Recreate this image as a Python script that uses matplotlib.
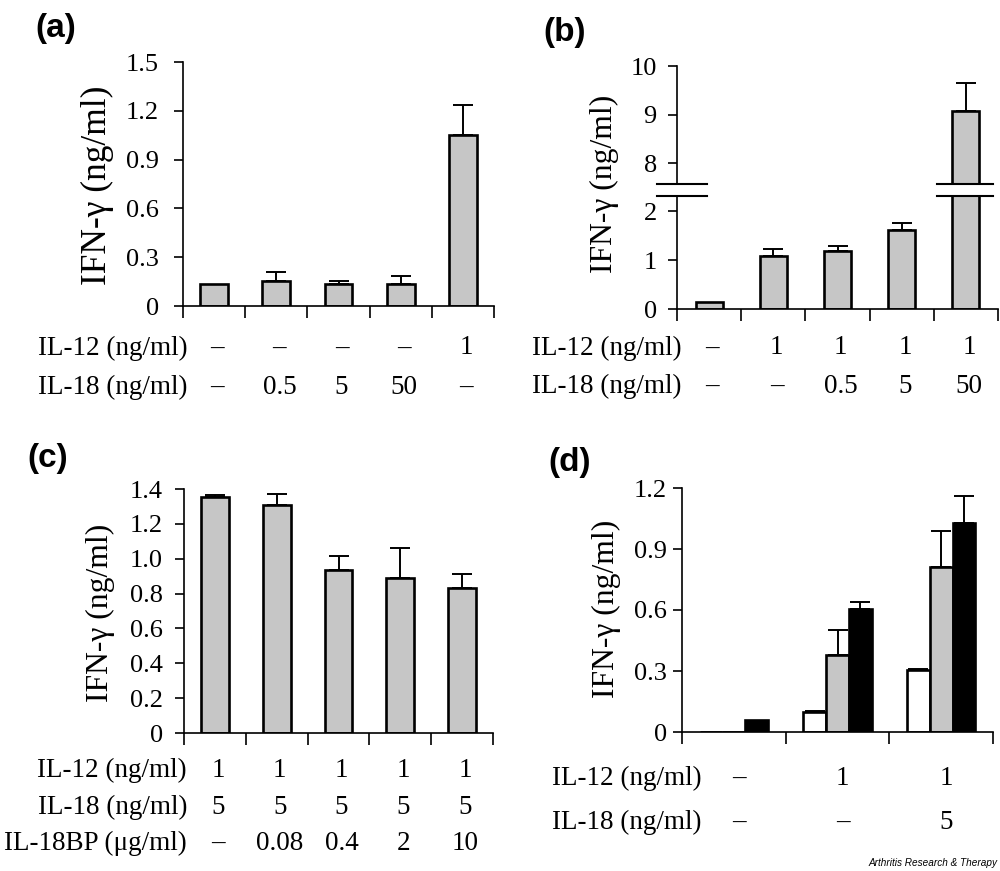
import numpy as np
import matplotlib
matplotlib.use('Agg')
import matplotlib.pyplot as plt
from matplotlib import transforms

W, H = 1000, 871

# ---- data ----
a_vals = [0.135, 0.155, 0.135, 0.135, 1.05]
a_err = [0.0, 0.055, 0.02, 0.05, 0.185]
a_il12 = ['–', '–', '–', '–', '1']
a_il18 = ['–', '0.5', '5', '50', '–']
a_yticks = [0, 0.3, 0.6, 0.9, 1.2, 1.5]
a_yticklabels = ['0', '0.3', '0.6', '0.9', '1.2', '1.5']

b_vals = [0.14, 1.08, 1.18, 1.61, 9.08]
b_err = [0.0, 0.15, 0.11, 0.15, 0.57]
b_il12 = ['–', '1', '1', '1', '1']
b_il18 = ['–', '–', '0.5', '5', '50']
b_low_ticks = [0, 1, 2]
b_high_ticks = [8, 9, 10]

c_vals = [1.355, 1.31, 0.935, 0.89, 0.83]
c_err = [0.01, 0.06, 0.08, 0.17, 0.08]
c_il12 = ['1', '1', '1', '1', '1']
c_il18 = ['5', '5', '5', '5', '5']
c_bp = ['–', '0.08', '0.4', '2', '10']
c_yticks = [0, 0.2, 0.4, 0.6, 0.8, 1.0, 1.2, 1.4]
c_yticklabels = ['0', '0.2', '0.4', '0.6', '0.8', '1.0', '1.2', '1.4']

d_white = [0.0, 0.098, 0.305]
d_white_err = [0.0, 0.005, 0.005]
d_grey = [0.0, 0.38, 0.81]
d_grey_err = [0.0, 0.12, 0.18]
d_black = [0.06, 0.605, 1.03]
d_black_err = [0.0, 0.035, 0.13]
d_il12 = ['–', '1', '1']
d_il18 = ['–', '–', '5']
d_yticks = [0, 0.3, 0.6, 0.9, 1.2]
d_yticklabels = ['0', '0.3', '0.6', '0.9', '1.2']

GREY = '#c6c6c6'
SERIF = 'Liberation Serif'
SANS = 'Liberation Sans'
TICK_FS = 19
ROW_FS = 19.5
YLAB_FS = 22.8
PANEL_FS = 24

fig = plt.figure(figsize=(W / 100, H / 100), dpi=100)


def box(l, t, r, b):
    return [l / W, 1 - b / H, (r - l) / W, (b - t) / H]


def fy(ypx):
    return 1 - ypx / H


def style_axis(ax, pad, bottom=True):
    for s in ['top', 'right']:
        ax.spines[s].set_visible(False)
    ax.spines['left'].set_linewidth(1.2)
    ax.spines['bottom'].set_linewidth(1.2)
    ax.tick_params(axis='y', direction='out', length=6.5, width=1.2, pad=pad,
                   labelsize=TICK_FS)
    if bottom:
        ax.tick_params(axis='x', direction='out', length=8.5, width=1.2,
                       labelbottom=False)
    for lab in ax.get_yticklabels():
        lab.set_fontfamily(SERIF)


def draw_bars(ax, x, vals, errs, color, width):
    ax.bar(x, vals, width, color=color, edgecolor='black', linewidth=1.9, zorder=2)
    x = np.asarray(x, dtype=float)
    vals = np.asarray(vals)
    errs = np.asarray(errs)
    m = errs > 0
    if m.any():
        ax.errorbar(x[m], vals[m], yerr=[np.zeros(m.sum()), errs[m]], fmt='none',
                    ecolor='black', elinewidth=1.4, capsize=7, capthick=1.4, zorder=1)


def rows(ax, labels_list, names, ys, name_x):
    tr = transforms.blended_transform_factory(ax.transData, fig.transFigure)
    for labels, name, y in zip(labels_list, names, ys):
        fig.text(name_x / W, fy(y), name, ha='right', va='center',
                 family=SERIF, fontsize=ROW_FS)
        for i, lab in enumerate(labels):
            ax.text(i + 1.05, fy(y), lab, transform=tr, ha='center', va='center',
                    family=SERIF, fontsize=ROW_FS)


def ylabel(x, y, size=YLAB_FS):
    fig.text(x / W, fy(y), 'IFN-γ (ng/ml)', rotation=90, ha='center', va='center',
             family=SERIF, fontsize=size)


def panel(x, y, s):
    fig.text(x / W, fy(y), s, ha='left', va='center', family=SANS,
             weight='bold', fontsize=PANEL_FS)


x5 = np.arange(1, 6)

# ---- (a) ----
ax = fig.add_axes(box(183, 62, 494, 306))
draw_bars(ax, x5, a_vals, a_err, GREY, 0.45)
ax.set_xlim(0.5, 5.5)
ax.set_ylim(0, 1.5)
ax.set_xticks(np.arange(0.5, 6, 1))
ax.set_yticks(a_yticks)
ax.set_yticklabels(a_yticklabels)
style_axis(ax, 11)
rows(ax, [a_il12, a_il18], ['IL-12 (ng/ml)', 'IL-18 (ng/ml)'], [348, 387], 188)
ylabel(97, 185, 25.5)
panel(35, 28, '(a)')

# ---- (b) broken axis ----
axl = fig.add_axes(box(677, 196, 998, 309))
axh = fig.add_axes(box(677, 66, 998, 184))
for a_ in (axl, axh):
    draw_bars(a_, x5, b_vals, b_err, GREY, 0.42)
    a_.set_xlim(0.5, 5.5)
axl.set_ylim(0, 2.31)
axh.set_ylim(7.57, 10)
axl.set_xticks(np.arange(0.5, 6, 1))
axl.set_yticks(b_low_ticks)
axl.set_yticklabels([str(t) for t in b_low_ticks])
axh.set_yticks(b_high_ticks)
axh.set_yticklabels([str(t) for t in b_high_ticks])
style_axis(axl, 8)
style_axis(axh, 8, bottom=False)
axh.spines['bottom'].set_visible(False)
axh.tick_params(axis='x', bottom=False, labelbottom=False)
for xs in ([-0.062, 0.093], [0.81, 0.984]):
    axh.plot(xs, [0, 0], transform=axh.transAxes, color='black', lw=1.5, clip_on=False)
    axl.plot(xs, [1, 1], transform=axl.transAxes, color='black', lw=1.5, clip_on=False)
rows(axl, [b_il12, b_il18], ['IL-12 (ng/ml)', 'IL-18 (ng/ml)'], [348, 386], 682)
ylabel(604, 184)
panel(543, 32, '(b)')

# ---- (c) ----
ax = fig.add_axes(box(184, 489, 493, 733))
draw_bars(ax, x5, c_vals, c_err, GREY, 0.45)
ax.set_xlim(0.5, 5.5)
ax.set_ylim(0, 1.4)
ax.set_xticks(np.arange(0.5, 6, 1))
ax.set_yticks(c_yticks)
ax.set_yticklabels(c_yticklabels)
style_axis(ax, 8.5)
rows(ax, [c_il12, c_il18, c_bp], ['IL-12 (ng/ml)', 'IL-18 (ng/ml)', 'IL-18BP (μg/ml)'],
     [770, 807, 843], 187)
ylabel(100, 613)
panel(27, 458, '(c)')

# ---- (d) ----
ax = fig.add_axes(box(682, 488, 993, 732))
x3 = np.arange(1, 4)
bw = 0.22
draw_bars(ax, x3 - bw, d_white, d_white_err, 'white', bw)
draw_bars(ax, x3, d_grey, d_grey_err, GREY, bw)
draw_bars(ax, x3 + bw, d_black, d_black_err, 'black', bw)
ax.set_xlim(0.5, 3.5)
ax.set_ylim(0, 1.2)
ax.set_xticks(np.arange(0.5, 4, 1))
ax.set_yticks(d_yticks)
ax.set_yticklabels(d_yticklabels)
style_axis(ax, 4.5)
rows(ax, [d_il12, d_il18], ['IL-12 (ng/ml)', 'IL-18 (ng/ml)'], [778, 822], 702)
ylabel(606, 609)
panel(548, 462, '(d)')

fig.text(997 / W, fy(863), 'Arthritis Research & Therapy', ha='right', va='center',
         family=SANS, style='italic', fontsize=7.2)

fig.savefig('out.png', dpi=100)
